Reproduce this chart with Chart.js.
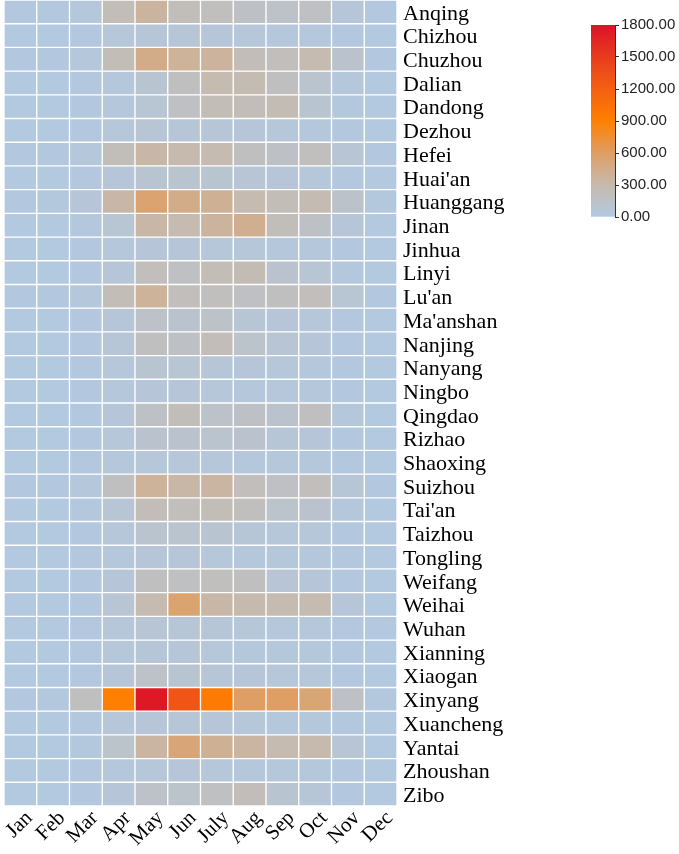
<!DOCTYPE html>
<html>
<head>
<meta charset="utf-8">
<title>Monthly heatmap</title>
<script src="https://cdn.jsdelivr.net/npm/chart.js@4.4.1/dist/chart.umd.min.js"></script>
<style>
  html, body { margin: 0; padding: 0; background: #fff; }
  #wrap { position: relative; width: 679px; height: 854px; }
  #heat { position: absolute; left: 0; top: 0; }
  #bar { position: absolute; left: 585px; top: 0; }
</style>
</head>
<body>
<div id="wrap">
  <canvas id="heat" width="679" height="854"></canvas>
  <canvas id="bar" width="94" height="240"></canvas>
</div>
<script>
"use strict";

const months = ["Jan", "Feb", "Mar", "Apr", "May", "Jun", "July", "Aug", "Sep", "Oct", "Nov", "Dec"];

const cities = [
    "Anqing", "Chizhou", "Chuzhou", "Dalian", "Dandong", "Dezhou", "Hefei", "Huai'an",
    "Huanggang", "Jinan", "Jinhua", "Linyi", "Lu'an", "Ma'anshan", "Nanjing", "Nanyang",
    "Ningbo", "Qingdao", "Rizhao", "Shaoxing", "Suizhou", "Tai'an", "Taizhou", "Tongling",
    "Weifang", "Weihai", "Wuhan", "Xianning", "Xiaogan", "Xinyang", "Xuancheng", "Yantai",
    "Zhoushan", "Zibo"
];

// one row per city, Jan..Dec
const values = [
    [20, 20, 40, 250, 360, 230, 210, 160, 150, 180, 60, 15],     // Anqing
    [10, 10, 20, 50, 70, 70, 60, 50, 40, 40, 20, 10],            // Chizhou
    [20, 20, 40, 250, 450, 380, 370, 240, 220, 290, 120, 20],    // Chuzhou
    [10, 10, 20, 40, 100, 200, 280, 270, 200, 110, 40, 10],      // Dalian
    [10, 10, 20, 40, 90, 180, 250, 240, 260, 100, 30, 10],       // Dandong
    [10, 10, 20, 50, 80, 70, 70, 60, 50, 40, 20, 10],            // Dezhou
    [20, 20, 40, 230, 330, 300, 280, 200, 170, 210, 80, 20],     // Hefei
    [10, 10, 20, 60, 100, 110, 100, 80, 60, 50, 20, 10],         // Huai'an
    [20, 30, 60, 330, 550, 450, 400, 280, 250, 270, 140, 30],    // Huanggang
    [10, 10, 30, 90, 330, 280, 370, 420, 230, 170, 60, 10],      // Jinan
    [10, 10, 20, 40, 60, 60, 50, 50, 40, 40, 20, 10],            // Jinhua
    [10, 10, 20, 60, 220, 180, 250, 260, 120, 80, 30, 10],       // Linyi
    [20, 20, 40, 250, 380, 220, 210, 180, 200, 220, 90, 20],     // Lu'an
    [10, 10, 20, 60, 150, 120, 150, 80, 60, 50, 20, 10],         // Ma'anshan
    [10, 10, 20, 70, 200, 170, 240, 130, 80, 60, 20, 10],        // Nanjing
    [10, 10, 20, 50, 100, 90, 70, 60, 50, 40, 20, 10],           // Nanyang
    [10, 10, 20, 40, 60, 60, 50, 40, 40, 40, 20, 10],            // Ningbo
    [10, 10, 20, 60, 170, 230, 140, 160, 120, 200, 40, 10],      // Qingdao
    [10, 10, 20, 50, 120, 120, 110, 120, 70, 60, 20, 10],        // Rizhao
    [10, 10, 20, 40, 50, 50, 50, 40, 40, 40, 20, 10],            // Shaoxing
    [20, 20, 40, 200, 380, 330, 350, 220, 180, 220, 70, 20],     // Suizhou
    [10, 10, 30, 80, 240, 220, 250, 210, 130, 120, 40, 10],      // Tai'an
    [10, 10, 20, 50, 110, 110, 100, 70, 50, 50, 20, 10],         // Taizhou
    [10, 10, 20, 40, 60, 60, 50, 40, 40, 40, 20, 10],            // Tongling
    [10, 10, 20, 60, 200, 190, 210, 200, 80, 60, 20, 10],        // Weifang
    [10, 10, 20, 80, 280, 550, 330, 300, 280, 290, 60, 10],      // Weihai
    [10, 10, 20, 50, 80, 70, 60, 50, 40, 40, 20, 10],            // Wuhan
    [10, 10, 20, 50, 70, 60, 50, 40, 40, 40, 20, 10],            // Xianning
    [10, 10, 20, 60, 150, 100, 70, 60, 50, 50, 20, 10],          // Xiaogan
    [20, 30, 200, 900, 1750, 1300, 950, 600, 600, 530, 170, 30], // Xinyang
    [10, 10, 20, 50, 70, 70, 60, 50, 40, 40, 20, 10],            // Xuancheng
    [10, 10, 30, 130, 350, 520, 400, 350, 280, 300, 80, 10],     // Yantai
    [10, 10, 20, 40, 50, 60, 50, 40, 40, 40, 20, 10],            // Zhoushan
    [10, 10, 20, 60, 150, 130, 190, 240, 100, 70, 20, 10]        // Zibo
];

const scaleMin = 0;
const scaleMax = 1800;
const scaleStep = 300;

// colour map stops (value -> rgb)
const stopValues = [0, 300, 600, 900, 1350, 1800];
const stopColors = [
    [178, 201, 226],
    [198, 186, 174],
    [222, 158, 100],
    [255, 128, 0],
    [238, 80, 25],
    [220, 18, 40]
];

function colorFor(v) {
    v = Math.max(scaleMin, Math.min(scaleMax, v));
    for (let i = 1; i < stopValues.length; i++) {
        if (v <= stopValues[i]) {
            const t = (v - stopValues[i - 1]) / (stopValues[i] - stopValues[i - 1]);
            const a = stopColors[i - 1], b = stopColors[i];
            const c = a.map((x, k) => Math.round(x + (b[k] - x) * t));
            return "rgb(" + c.join(",") + ")";
        }
    }
    return "rgb(" + stopColors[stopColors.length - 1].join(",") + ")";
}

const serif = "'Liberation Serif', 'Times New Roman', serif";

// Heatmap: one floating-bar dataset per city row
const heatSets = cities.map(function (city, r) {
    return {
        label: city,
        data: months.map(function () { return [r, r + 1]; }),
        backgroundColor: values[r].map(colorFor),
        borderColor: "#ffffff",
        borderWidth: 1,
        borderSkipped: false,
        grouped: false,
        barPercentage: 1,
        categoryPercentage: 1
    };
});

new Chart(document.getElementById("heat"), {
    type: "bar",
    data: { labels: months, datasets: heatSets },
    options: {
        responsive: false,
        animation: false,
        layout: { padding: { left: 4, top: 0, right: 0, bottom: 0 } },
        plugins: { legend: { display: false }, tooltip: { enabled: false } },
        scales: {
            x: {
                type: "category",
                grid: { display: false, drawTicks: false },
                border: { display: false },
                ticks: {
                    color: "#000",
                    font: { family: serif, size: 21 },
                    minRotation: 45,
                    maxRotation: 45,
                    autoSkip: false,
                    padding: 0,
                    labelOffset: 9
                },
                afterFit: function (s) {
                    s.height = 48;
                    s.paddingLeft = 0;
                    s.paddingRight = 0;
                }
            },
            y: {
                type: "linear",
                position: "right",
                reverse: true,
                min: 0,
                max: cities.length,
                grid: { display: false, drawTicks: false },
                border: { display: false },
                afterBuildTicks: function (s) {
                    s.ticks = cities.map(function (c, i) { return { value: i + 0.5 }; });
                },
                ticks: {
                    autoSkip: false,
                    color: "#000",
                    font: { family: serif, size: 22 },
                    padding: 6,
                    labelOffset: 2,
                    callback: function (v, i) { return cities[i]; }
                },
                afterFit: function (s) {
                    s.width = 282;
                    s.paddingTop = 0;
                    s.paddingBottom = 0;
                }
            }
        }
    }
});

// Colour bar
function barGradient(context) {
    const chart = context.chart;
    const area = chart.chartArea;
    if (!area) return colorFor(scaleMin);
    const g = chart.ctx.createLinearGradient(0, area.bottom, 0, area.top);
    stopValues.forEach(function (v) {
        g.addColorStop((v - scaleMin) / (scaleMax - scaleMin), colorFor(v));
    });
    return g;
}

new Chart(document.getElementById("bar"), {
    type: "bar",
    data: {
        labels: [""],
        datasets: [{
            data: [[scaleMin, scaleMax]],
            backgroundColor: barGradient,
            borderWidth: 0,
            barPercentage: 1,
            categoryPercentage: 1
        }]
    },
    options: {
        responsive: false,
        animation: false,
        layout: { padding: { left: 6, top: 25, right: 0, bottom: 23 } },
        plugins: { legend: { display: false }, tooltip: { enabled: false } },
        scales: {
            x: { display: false },
            y: {
                position: "right",
                min: scaleMin,
                max: scaleMax,
                grid: { drawOnChartArea: false, tickLength: 4, color: "#333", lineWidth: 1 },
                border: { display: true, color: "#333", width: 1 },
                ticks: {
                    stepSize: scaleStep,
                    color: "#222",
                    font: { family: "'Liberation Sans', Arial, sans-serif", size: 15 },
                    padding: 2,
                    callback: function (v) { return v.toFixed(2); }
                },
                afterFit: function (s) {
                    s.width = 64;
                    s.paddingTop = 0;
                    s.paddingBottom = 0;
                }
            }
        }
    }
});
</script>
</body>
</html>
